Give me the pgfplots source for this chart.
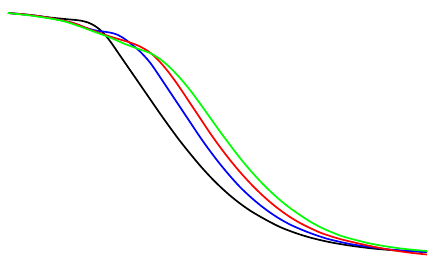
\documentclass[border=0pt]{standalone}
\usepackage{pgfplots}
\pgfplotsset{compat=1.18}
\begin{document}
\begin{tikzpicture}
\path[use as bounding box] (0,0) rectangle (436bp,270bp);
\begin{axis}[hide axis, scale only axis, width=436bp, height=270bp,
  xmin=0, xmax=436, ymin=0, ymax=270, y dir=reverse, clip=false,
  every axis plot/.append style={line width=1.7bp, smooth, no markers}]
\addplot[black] coordinates {(8,13)(30,15)(50,17.5)(70,19.5)(80,20.5)(88,22.5)(95,26)(102,31.5)(110,41)(120,55.5)(130,70)(140,84.5)(150,99)(160,113.5)(170,127.5)(180,141)(190,153.5)(200,165.5)(210,176.5)(220,186.5)(230,195.5)(240,203.5)(250,210.5)(260,216.5)(270,222)(280,227)(290,231)(300,234.5)(310,237.5)(320,240)(330,242.2)(340,244)(350,245.6)(370,248.2)(390,250)(410,251.2)(427,252)};
\addplot[blue] coordinates {(8,13)(30,15)(50,18)(73,23)(85,27.5)(95,30.3)(105,31.8)(112,33)(118,35)(124,38.5)(130,43)(140,51.5)(150,62.5)(160,77)(170,92)(180,107)(190,122)(200,137)(210,151)(220,164)(230,176)(240,187)(250,196.5)(260,205)(270,212.5)(280,219)(290,224.5)(300,229)(310,233)(320,236.5)(330,239.5)(350,244)(370,247)(390,249.5)(410,251)(427,252)};
\addplot[red] coordinates {(8,13)(30,15)(50,18)(73,23)(90,29.5)(100,33)(110,36.5)(120,39.5)(130,42.5)(140,46.5)(150,52.5)(160,62)(170,74)(180,88)(190,103)(200,118)(210,133)(220,147)(230,160)(240,172)(250,183)(260,193)(270,202)(280,210)(290,217)(300,223)(310,228)(320,232.5)(330,236)(340,239)(350,241.5)(370,246)(390,249.8)(410,252.7)(427,254.5)};
\addplot[green] coordinates {(8,13)(30,15.5)(50,18.5)(65,21.5)(80,26.5)(95,32)(110,37.5)(125,44)(140,49.5)(150,53)(160,59)(170,67.5)(180,78)(190,90)(200,103.5)(210,117.5)(220,131.5)(230,145)(240,158)(250,170)(260,181)(270,191)(280,200)(290,208)(300,215)(310,221.5)(320,227)(330,231.5)(340,235.5)(350,238.5)(370,243.5)(390,247)(410,249.5)(427,251)};
\end{axis}
\end{tikzpicture}
\end{document}
